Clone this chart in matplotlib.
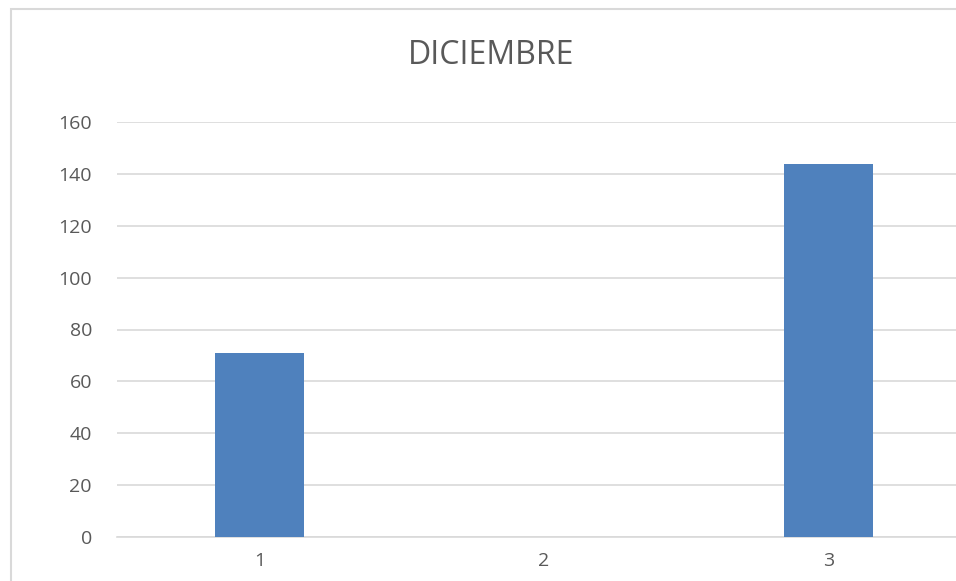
import matplotlib.pyplot as plt
from matplotlib.patches import Rectangle

categories = ['1', '2', '3']
values = [71, 0, 144]
title = 'DICIEMBRE'

plt.rcParams['font.family'] = ['Open Sans', 'DejaVu Sans']

fig = plt.figure(figsize=(9.56, 5.81), dpi=100)

# light chart-area border, cut off at right and bottom like the screenshot
fig.patches.append(Rectangle((11 / 956, -0.2), 1.2, 1.2 - 9 / 581,
                             transform=fig.transFigure, fill=False,
                             edgecolor='#d9d9d9', linewidth=1.5))

ax = fig.add_axes([117 / 956, 1 - 537 / 581, 853.5 / 956, 415 / 581])

x = range(len(categories))
ax.bar(x, values, width=0.313, color='#4f81bd', zorder=3)

ax.set_xlim(-0.5, 2.5)
ax.set_ylim(0, 160)
ax.set_yticks(range(0, 161, 20))
ax.set_xticks(list(x))
ax.set_xticklabels(categories)

ax.grid(axis='y', color='#d9d9d9', linewidth=1.2, zorder=0)
for s in ax.spines.values():
    s.set_visible(False)
ax.spines['bottom'].set_visible(True)
ax.spines['bottom'].set_color('#d9d9d9')
ax.spines['bottom'].set_linewidth(1.2)

ax.tick_params(length=0, labelsize=14, labelcolor='#595959')
ax.tick_params(axis='y', pad=18)
ax.tick_params(axis='x', pad=11)

fig.text(491 / 956, 1 - 56 / 581, title, ha='center', va='center',
         fontsize=23, color='#595959')

fig.savefig('out.png', dpi=100)
